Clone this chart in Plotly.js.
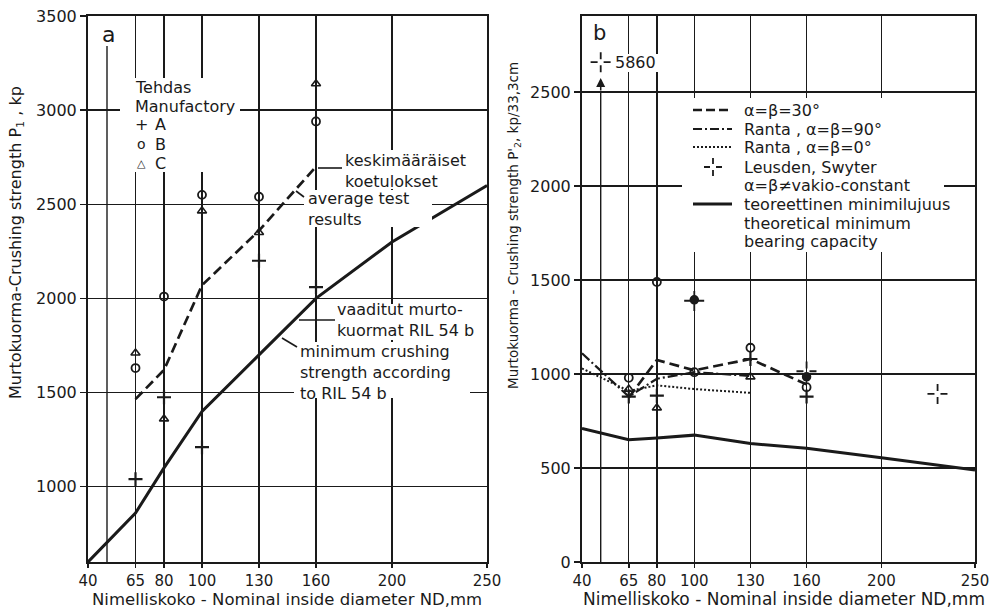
<!DOCTYPE html>
<html><head><meta charset="utf-8">
<script src="https://cdn.plot.ly/plotly-3.0.1.min.js"></script>
<style>html,body{margin:0;padding:0;background:#fff}</style>
</head><body><div id="chart" style="width:995px;height:610px"></div>
<script>
// ---------- shared axis ----------
const ndTicks    = [40, 65, 80, 100, 130, 160, 200, 250];
const ndTickText = ['40', '65', '80', '100', '130', '160', '200', '250'];
const ndExtraGrid = 50;
const aYTicks = [1000, 1500, 2000, 2500, 3000, 3500];
const bYTicks = [0, 500, 1000, 1500, 2000, 2500];

// ---------- panel a ----------
const avgX = [65, 80, 100, 130, 160];
const avgY = [1465, 1620, 2070, 2360, 2700];
const minX = [40, 65, 80, 100, 130, 160, 200, 250];
const minY = [600, 860, 1100, 1400, 1700, 2000, 2300, 2600];
const factX = [65, 80, 100, 130, 160];
const factA = [1040, 1475, 1210, 2200, 2060];
const factB = [1630, 2010, 2550, 2540, 2940];
const factC = [1710, 1360, 2465, 2350, 3140];

// ---------- panel b ----------
const b30X = [65, 80, 100, 130, 160];
const b30Y = [875, 1075, 1020, 1080, 945];
const b90X = [40, 65, 80, 100, 130];
const b90Y = [1110, 880, 975, 1010, 990];
const b0X  = [40, 65, 80, 100, 130];
const b0Y  = [1030, 910, 940, 920, 900];
const theoX = [40, 65, 80, 100, 130, 160, 200, 250];
const theoY = [710, 650, 660, 675, 630, 605, 555, 490];
const leusX = [50, 100, 160, 230];
const leusY = [2660, 1390, 1015, 895];
const leusLabel = ['5860', '', '', ''];
const bAX = [65, 80, 130, 160];
const bAY = [880, 885, 1080, 880];
const bBX = [65, 80, 100, 130, 160];
const bBY = [980, 1490, 1010, 1140, 930];
const bCX = [65, 80, 130];
const bCY = [920, 820, 985];
const bDotX = [100, 160];
const bDotY = [1395, 985];

const INK = '#1a1a1a';
const FONT = 'DejaVu Sans';

function crossTraces(xs, ys, dx, dy, xa, ya) {
  const hx = [], hy = [], vx = [], vy = [];
  xs.forEach((x, i) => {
    const y = ys[i];
    hx.push(x - dx, x + dx, null); hy.push(y, y, null);
    vx.push(x, x, null); vy.push(y - dy, y + dy, null);
  });
  const ln = {color: INK, width: 1.8, dash: '7px,6px'};
  return [
    {x: hx, y: hy, xaxis: xa, yaxis: ya, mode: 'lines', line: ln, hoverinfo: 'skip', connectgaps: false},
    {x: vx, y: vy, xaxis: xa, yaxis: ya, mode: 'lines', line: ln, hoverinfo: 'skip', connectgaps: false}
  ];
}

const mk = (sym, size, w) => ({symbol: sym, size: size, color: INK, line: {color: INK, width: w}});

const traces = [
  // panel a
  {x: minX, y: minY, mode: 'lines', line: {color: INK, width: 3}, xaxis: 'x', yaxis: 'y'},
  {x: avgX, y: avgY, mode: 'lines', line: {color: INK, width: 2.7, dash: '10px,5px'}, xaxis: 'x', yaxis: 'y'},
  {x: factX, y: factA, mode: 'markers', marker: mk('cross-thin-open', 10, 2.2), xaxis: 'x', yaxis: 'y'},
  {x: factX, y: factB, mode: 'markers', marker: mk('circle-open', 8, 1.8), xaxis: 'x', yaxis: 'y'},
  {x: factX, y: factC, mode: 'markers', marker: mk('triangle-up-open', 8, 1.6), xaxis: 'x', yaxis: 'y'},
  // panel b
  {x: theoX, y: theoY, mode: 'lines', line: {color: INK, width: 3}, xaxis: 'x2', yaxis: 'y2'},
  {x: b0X, y: b0Y, mode: 'lines', line: {color: INK, width: 2, dash: '2px,2px'}, xaxis: 'x2', yaxis: 'y2'},
  {x: b90X, y: b90Y, mode: 'lines', line: {color: INK, width: 2.2, dash: '10px,3px,2px,3px'}, xaxis: 'x2', yaxis: 'y2'},
  {x: b30X, y: b30Y, mode: 'lines', line: {color: INK, width: 2.7, dash: '10px,5px'}, xaxis: 'x2', yaxis: 'y2'},
  {x: bAX, y: bAY, mode: 'markers', marker: mk('cross-thin-open', 10, 2.2), xaxis: 'x2', yaxis: 'y2'},
  {x: bBX, y: bBY, mode: 'markers', marker: mk('circle-open', 8, 1.8), xaxis: 'x2', yaxis: 'y2'},
  {x: bCX, y: bCY, mode: 'markers', marker: mk('triangle-up-open', 8, 1.6), xaxis: 'x2', yaxis: 'y2'},
  {x: bDotX, y: bDotY, mode: 'markers', marker: mk('circle', 8, 1.5), xaxis: 'x2', yaxis: 'y2'},
  ...crossTraces(leusX, leusY, 5.4, 54, 'x2', 'y2')
];

// pixel -> paper helpers (plot area: left 88, top 16, width 887, height 546)
const PX = x => (x - 88) / 887;
const PY = y => (562 - y) / 546;
// pixel -> data helpers for the two panels
const AX = x => 40 + (x - 88) * 210 / 399;
const AY = y => 600 + (562 - y) * 2900 / 546;
const BX = x => 40 + (x - 582) * 210 / 393;
const BY = y => (562 - y) * 2905 / 546;

const txt = (t, x, y, opt = {}) => Object.assign({
  text: t, xref: 'paper', yref: 'paper', x: PX(x), y: PY(y), showarrow: false,
  xanchor: 'left', yanchor: 'middle', align: 'left',
  font: {family: FONT, size: 16, color: INK}
}, opt);

const annotations = [
  // axis titles
  txt('Murtokuorma-Crushing strength P<sub>1</sub> , kp', 17, 243, {textangle: -90, xanchor: 'center'}),
  txt("Murtokuorma - Crushing strength P'<sub>2</sub>, kp/33,3cm", 514, 226, {textangle: -90, xanchor: 'center', font: {family: FONT, size: 13.5, color: INK}}),
  txt('Nimelliskoko - Nominal inside diameter ND,mm', 287, 599, {xanchor: 'center', font: {family: FONT, size: 16.5, color: INK}}),
  txt('Nimelliskoko - Nominal inside diameter ND,mm', 784, 599, {xanchor: 'center', font: {family: FONT, size: 17, color: INK}}),
  // panel labels
  txt('a', 108, 34, {xanchor: 'center', font: {family: FONT, size: 22, color: INK}}),
  txt('b', 599, 33, {xanchor: 'center', font: {family: FONT, size: 21, color: INK}}),
  // panel a legend
  txt('Tehdas', 133, 88),
  txt('Manufactory', 133, 107),
  txt('+', 141, 125, {xanchor: 'center', font: {family: FONT, size: 16, color: INK}}),
  txt('A', 153, 125),
  txt('o', 141, 144, {xanchor: 'center', font: {family: FONT, size: 14, color: INK}}),
  txt('B', 153, 144),
  txt('△', 141, 163, {xanchor: 'center', font: {family: FONT, size: 11, color: INK}}),
  txt('C', 153, 163),
  // panel a notes
  txt('keskimääräiset<br>koetulokset', 343, 171),
  txt('average test<br>results', 306, 209),
  txt('vaaditut murto-<br>kuormat RIL 54 b', 335, 320),
  txt('minimum crushing<br>strength according<br>to RIL 54 b', 298, 372),
  // panel b legend
  txt('α=β=30°', 742, 110),
  txt('Ranta , α=β=90°', 742, 129),
  txt('Ranta , α=β=0°', 742, 147),
  txt('Leusden, Swyter', 742, 167),
  txt('α=β≠vakio-constant', 742, 185),
  txt('teoreettinen minimilujuus', 742, 204),
  txt('theoretical minimum', 742, 223),
  txt('bearing capacity', 742, 242),
  // off-scale value label
  {text: leusLabel[0], x: leusX[0], y: leusY[0], xref: 'x2', yref: 'y2', showarrow: false,
   xanchor: 'left', yanchor: 'middle', xshift: 12, font: {family: FONT, size: 16, color: INK}},
  {text: '', x: leusX[0], y: 2575, xref: 'x2', yref: 'y2', showarrow: true, ax: 0, ay: 14,
   arrowhead: 2, arrowsize: 1.2, arrowwidth: 1.5, arrowcolor: INK}
];

const gridA = {type: 'line', xref: 'x', yref: 'y', x0: ndExtraGrid, x1: ndExtraGrid, y0: 600, y1: AY(46),
  line: {color: INK, width: 1.4}, layer: 'below'};
const gridB = {type: 'line', xref: 'x2', yref: 'y2', x0: ndExtraGrid, x1: ndExtraGrid, y0: 0, y1: 2500,
  line: {color: INK, width: 1.4}, layer: 'below'};
const wboxA = (x0, y0, x1, y1) => ({type: 'rect', xref: 'x', yref: 'y', x0: AX(x0), x1: AX(x1), y0: AY(y1), y1: AY(y0),
  fillcolor: '#fff', line: {width: 0}, layer: 'above'});
const wboxB = (x0, y0, x1, y1) => ({type: 'rect', xref: 'x2', yref: 'y2', x0: BX(x0), x1: BX(x1), y0: BY(y1), y1: BY(y0),
  fillcolor: '#fff', line: {width: 0}, layer: 'above'});
const pline = (x0, y0, x1, y1, w, dash) => ({type: 'line', xref: 'paper', yref: 'paper', x0: PX(x0), x1: PX(x1), y0: PY(y0), y1: PY(y1),
  line: {color: INK, width: w || 1.8, dash: dash || 'solid'}});

const shapes = [
  gridA, gridB,
  // gaps in the grid behind texts (placed where no data marks lie)
  wboxA(120, 78, 240, 172),
  wboxA(340, 150, 472, 189),
  wboxA(304, 190, 432, 227),
  wboxA(333, 304, 485, 340),
  wboxA(294, 342, 470, 398),
  wboxB(614, 54, 666, 72),
  wboxB(682, 98, 944, 252),
  // leader lines
  pline(318, 168, 342, 168, 1.6),
  pline(296, 191, 304, 197, 1.6),
  pline(299, 320, 335, 320, 1.6),
  pline(282, 338, 297, 347, 1.6),
  // panel b legend samples
  pline(693, 110, 732, 110, 2.5, '9px,4px'),
  pline(693, 129, 732, 129, 2.2, '9px,3px,2px,3px'),
  pline(693, 147, 732, 147, 2, '2px,2px'),
  pline(704, 167, 722, 167, 1.8, '6px,6px'),
  pline(713, 158, 713, 176, 1.8, '6px,6px'),
  pline(693, 204, 732, 204, 3)
];

const xBase = {
  tickvals: ndTicks, ticktext: ndTickText, showgrid: true, gridcolor: INK, gridwidth: 1.4,
  showline: true, mirror: true, linecolor: INK, linewidth: 2, zeroline: false,
  ticks: 'outside', ticklen: 4, tickwidth: 1.5, tickcolor: INK,
  tickfont: {family: FONT, size: 15, color: INK}, range: [40, 250], fixedrange: true
};
const yBase = {
  showgrid: true, gridcolor: INK, gridwidth: 1.4,
  showline: true, mirror: true, linecolor: INK, linewidth: 2, zeroline: false,
  ticks: 'outside', ticklen: 6, tickwidth: 1.5, tickcolor: INK,
  tickfont: {family: FONT, size: 16, color: INK}, fixedrange: true
};

const layout = {
  width: 995, height: 610,
  margin: {l: 88, r: 20, t: 16, b: 48},
  paper_bgcolor: '#fff', plot_bgcolor: '#fff',
  showlegend: false,
  xaxis: Object.assign({}, xBase, {domain: [0, 399 / 887], anchor: 'y'}),
  yaxis: Object.assign({}, yBase, {range: [600, 3500], tickvals: aYTicks, anchor: 'x'}),
  xaxis2: Object.assign({}, xBase, {domain: [494 / 887, 1], anchor: 'y2'}),
  yaxis2: Object.assign({}, yBase, {range: [0, 2905], tickvals: bYTicks, anchor: 'x2'}),
  annotations: annotations,
  shapes: shapes
};

Plotly.newPlot('chart', traces, layout, {displayModeBar: false, staticPlot: true});
</script></body></html>
